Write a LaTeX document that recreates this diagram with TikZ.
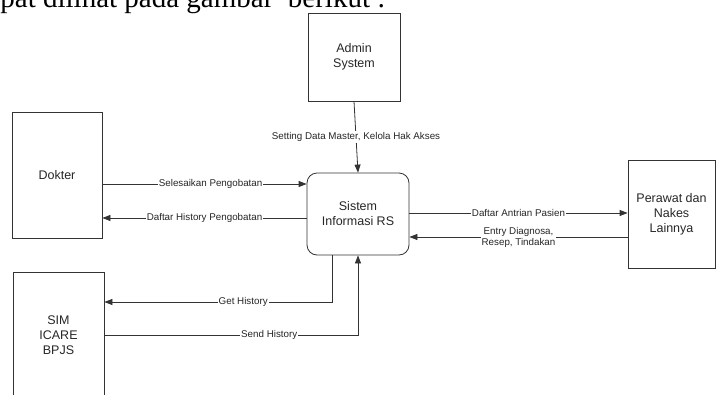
\documentclass[tikz,border=0pt]{standalone}
\usepackage{fontspec}
\setmainfont{Liberation Serif}
\newfontfamily\diagfont{Liberation Sans}
\usetikzlibrary{arrows.meta}
\begin{document}
\begin{tikzpicture}[x=1pt,y=-1pt,
  line width=0.8pt,
  entity/.style={draw=black!80, rectangle, inner sep=0pt, align=center,
    font=\diagfont\fontsize{12.5}{15}\selectfont, text=black!85},
  process/.style={entity, rounded corners=10pt},
  flow/.style={draw=black!80, -{Triangle[length=8pt,width=6pt]}},
  lbl/.style={fill=white, inner sep=1pt, align=center,
    font=\diagfont\fontsize{9.8}{11}\selectfont, text=black!85}]
  \useasboundingbox (0,0) rectangle (717,394);
  \begin{scope}
    \clip (0,0) rectangle (717,394);

    % running text of the page above the figure
    \node[anchor=base west, inner sep=0pt, font=\fontsize{29}{34}\selectfont]
      (caption) at (0,7) {pat dilihat pada gambar\ \ berikut :};

    % external entities and the central process
    \node[entity, minimum width=92pt, minimum height=88pt] (admin) at (354,57) {Admin\\System};
    \node[entity, minimum width=90pt, minimum height=126pt] (dokter) at (57,175) {Dokter};
    \node[process, minimum width=102pt, minimum height=82pt] (sis) at (358,214) {Sistem\\Informasi RS};
    \node[entity, minimum width=87pt, minimum height=108pt] (perawat) at (671.5,214) {Perawat dan\\Nakes\\Lainnya};
    \node[entity, minimum width=91pt, minimum height=126pt] (sim) at (58.5,335) {SIM\\ICARE\\BPJS};

    % data flows
    \draw[flow] (admin.south) -- node[lbl] {Setting Data Master, Kelola Hak Akses} (sis.north);

    \draw[flow] ([yshift=-9pt]dokter.east) -- node[lbl, pos=0.53] {Selesaikan Pengobatan}
      ([yshift=-9pt]dokter.east -| sis.west);
    \draw[flow] ([yshift=-4pt]sis.west) -- node[lbl, pos=0.5] {Daftar History Pengobatan}
      ([yshift=-4pt]sis.west -| dokter.east);

    \draw[flow] ([yshift=1pt]sis.east) -- node[lbl] {Daftar Antrian Pasien}
      ([yshift=1pt]sis.east -| perawat.west);
    \draw[flow] ([yshift=-23pt]perawat.west) -- node[lbl] {Entry Diagnosa,\\Resep, Tindakan}
      ([yshift=-23pt]perawat.west -| sis.east);

    \coordinate (getturn) at (332,302);
    \coordinate (sendturn) at (358,335);
    \draw[flow] (sis.south -| getturn) -- (getturn)
      -- node[lbl, pos=0.39] {Get History} (getturn -| sim.east);
    \draw[flow] (sendturn -| sim.east) -- node[lbl, pos=0.65] {Send History} (sendturn)
      -- (sis.south -| sendturn);
  \end{scope}
\end{tikzpicture}
\end{document}
